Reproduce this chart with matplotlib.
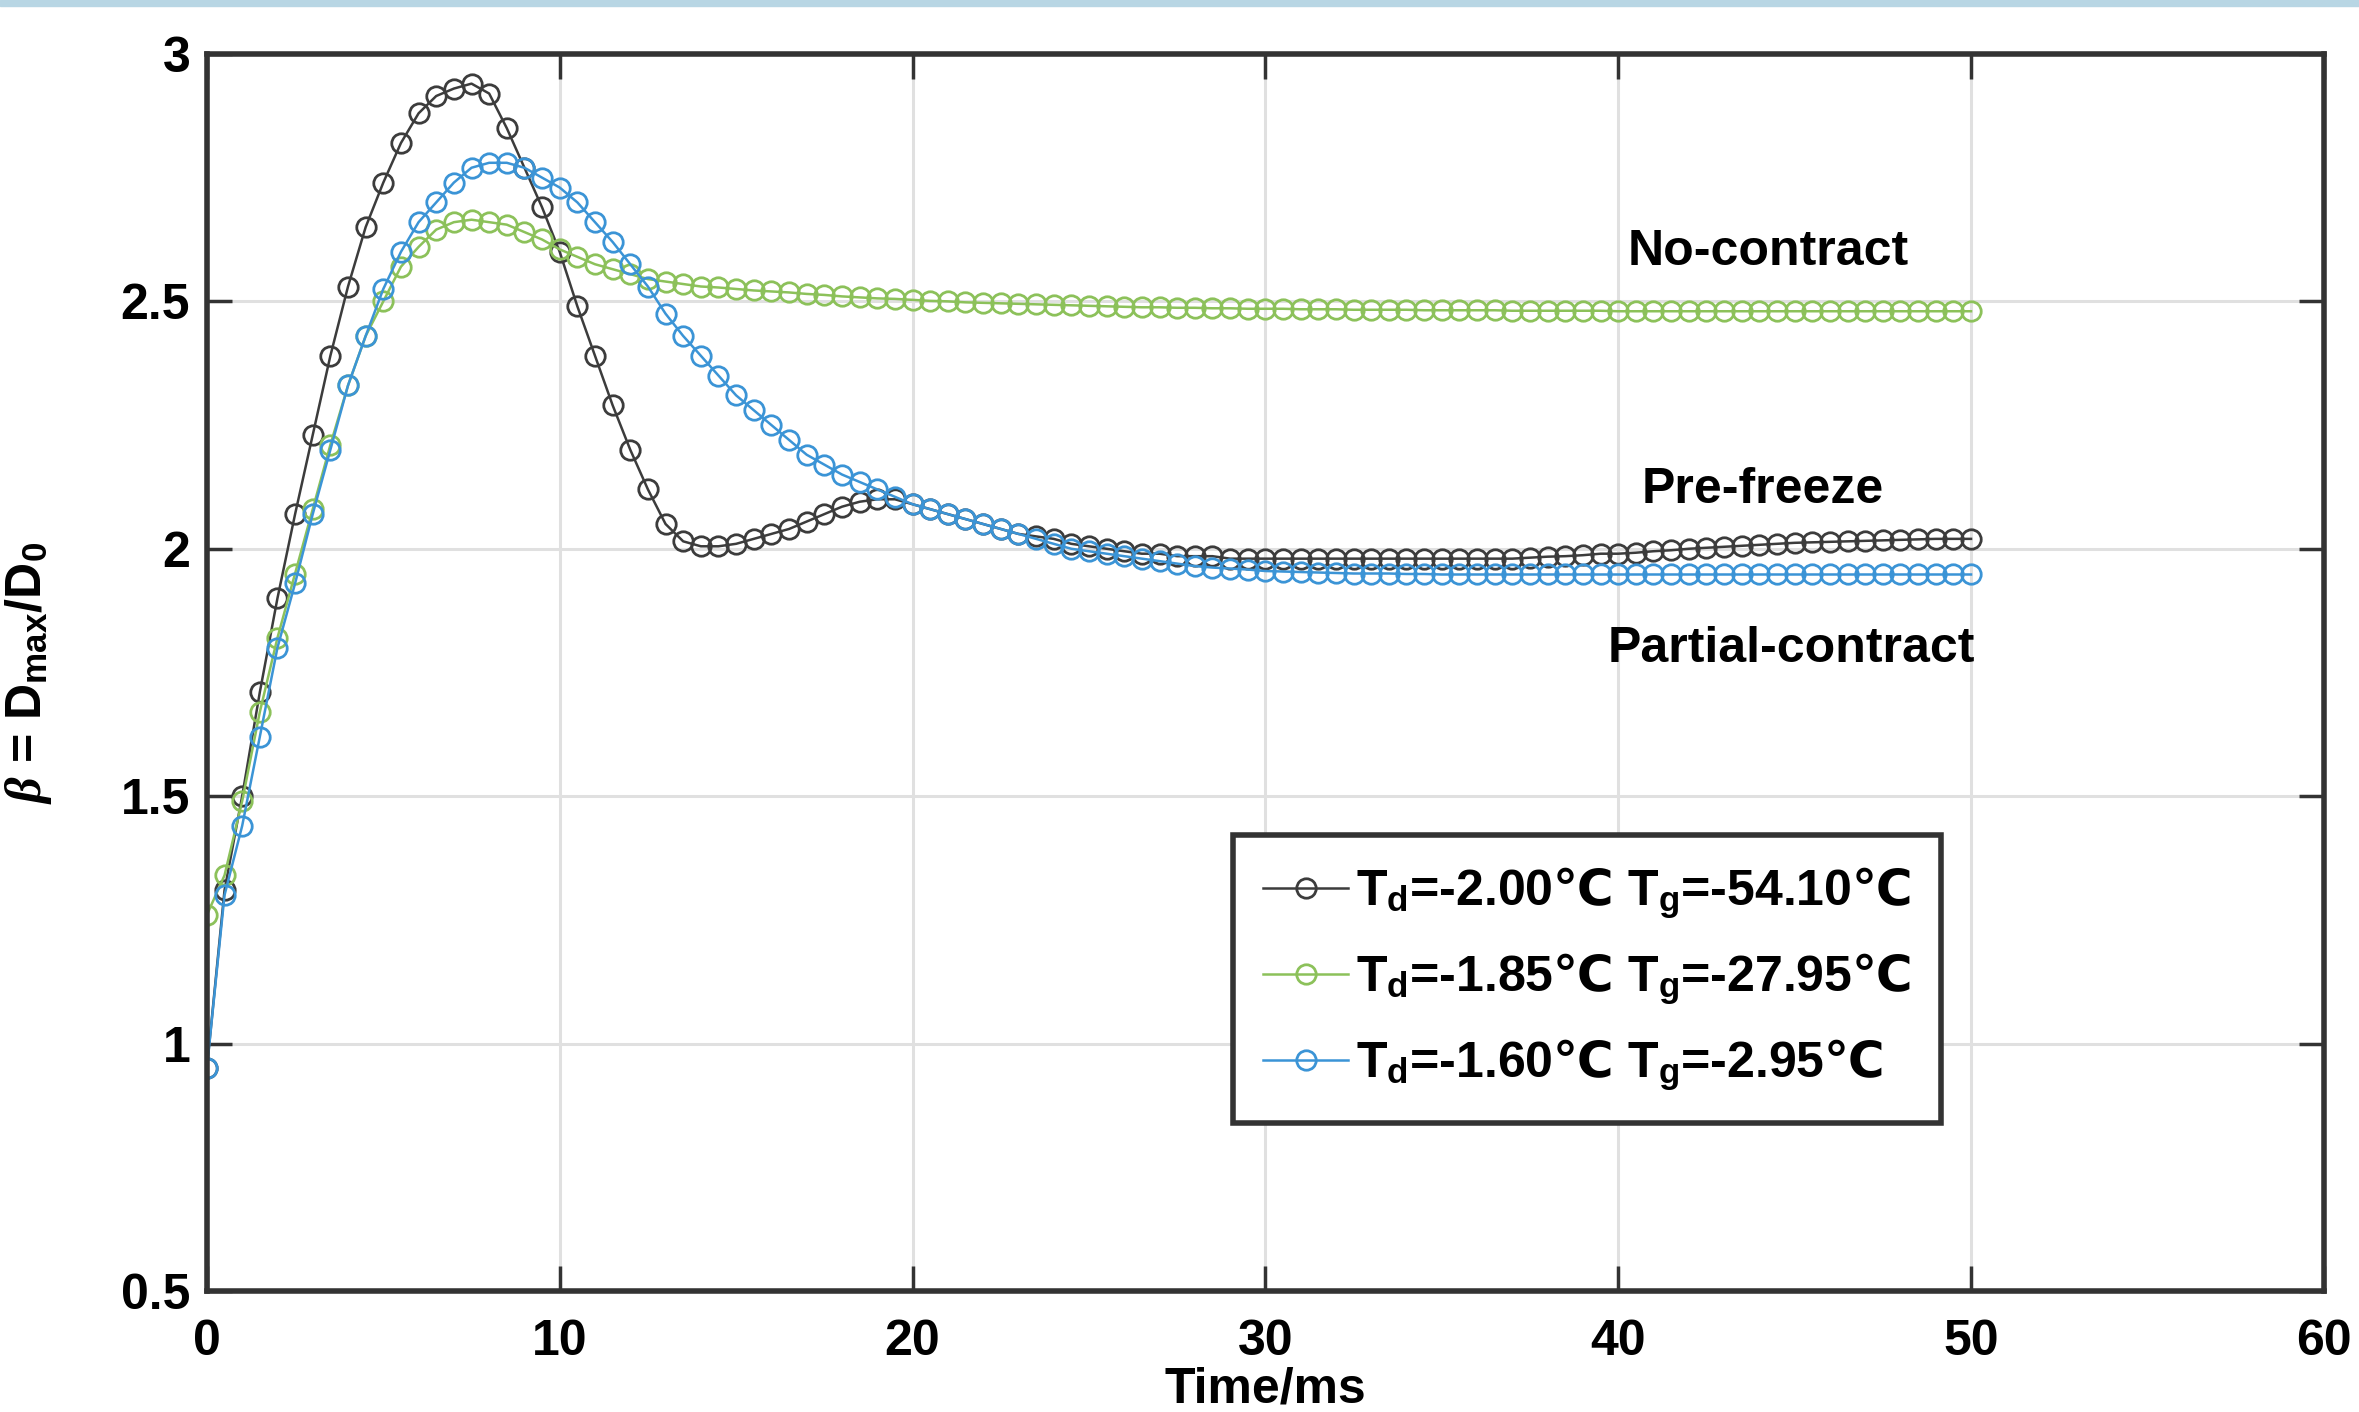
import matplotlib
matplotlib.use("Agg")
import matplotlib.pyplot as plt
from matplotlib.patches import Rectangle
from matplotlib.ticker import FormatStrFormatter

plt.rcParams['font.family'] = ['Liberation Sans', 'DejaVu Sans']
plt.rcParams['font.weight'] = 'bold'
plt.rcParams['mathtext.fontset'] = 'custom'
plt.rcParams['mathtext.rm'] = 'Liberation Sans:bold'
plt.rcParams['mathtext.it'] = 'Liberation Serif:italic'
plt.rcParams['mathtext.sf'] = 'DejaVu Sans'

# time axis, 0.5 ms steps
time_ms = [i * 0.5 for i in range(101)]

beta_nocontract_pre = [
    0.95, 1.31, 1.50, 1.71, 1.90, 2.07, 2.23, 2.39, 2.53, 2.65,
    2.74, 2.82, 2.88, 2.915, 2.93, 2.94, 2.92, 2.85, 2.77, 2.69,
    2.60, 2.49, 2.39, 2.29, 2.20, 2.12, 2.05, 2.015, 2.005, 2.005,
    2.01, 2.02, 2.03, 2.04, 2.055, 2.07, 2.085, 2.095, 2.10, 2.10,
    2.09, 2.08, 2.07, 2.06, 2.05, 2.04, 2.03, 2.025, 2.02, 2.01,
    2.005, 2.0, 1.995, 1.99, 1.99, 1.985, 1.985, 1.985, 1.98, 1.98,
    1.98, 1.98, 1.98, 1.98, 1.98, 1.98, 1.98, 1.98, 1.98, 1.98,
    1.98, 1.98, 1.98, 1.98, 1.98, 1.982, 1.984, 1.985, 1.987, 1.99,
    1.99, 1.992, 1.995, 1.997, 2.0, 2.002, 2.004, 2.006, 2.008, 2.01,
    2.012, 2.013, 2.014, 2.015, 2.016, 2.017, 2.018, 2.019, 2.02, 2.02,
    2.02,
]

beta_green = [
    1.26, 1.34, 1.49, 1.67, 1.82, 1.95, 2.08, 2.21, 2.33, 2.43,
    2.50, 2.57, 2.61, 2.645, 2.66, 2.665, 2.66, 2.655, 2.64, 2.625,
    2.605, 2.59, 2.575, 2.565, 2.555, 2.545, 2.54, 2.535, 2.53, 2.528,
    2.525, 2.522, 2.52, 2.518, 2.515, 2.513, 2.51, 2.508, 2.506, 2.505,
    2.503, 2.501, 2.5, 2.498, 2.497, 2.496, 2.495, 2.494, 2.493, 2.492,
    2.491, 2.49, 2.489, 2.488, 2.488, 2.487, 2.487, 2.486, 2.486, 2.485,
    2.485, 2.485, 2.484, 2.484, 2.484, 2.483, 2.483, 2.483, 2.483, 2.482,
    2.482, 2.482, 2.482, 2.482, 2.481, 2.481, 2.481, 2.481, 2.481, 2.481,
    2.48, 2.48, 2.48, 2.48, 2.48, 2.48, 2.48, 2.48, 2.48, 2.48,
    2.48, 2.48, 2.48, 2.48, 2.48, 2.48, 2.48, 2.48, 2.48, 2.48,
    2.48,
]

beta_blue = [
    0.95, 1.30, 1.44, 1.62, 1.80, 1.93, 2.07, 2.20, 2.33, 2.43,
    2.525, 2.60, 2.66, 2.70, 2.74, 2.77, 2.78, 2.78, 2.77, 2.75,
    2.73, 2.70, 2.66, 2.62, 2.575, 2.53, 2.475, 2.43, 2.39, 2.35,
    2.31, 2.28, 2.25, 2.22, 2.19, 2.17, 2.15, 2.135, 2.12, 2.105,
    2.09, 2.08, 2.07, 2.06, 2.05, 2.04, 2.03, 2.02, 2.01, 2.0,
    1.995, 1.99, 1.985, 1.98, 1.975, 1.97, 1.965, 1.962, 1.96, 1.958,
    1.955, 1.954, 1.953, 1.952, 1.951, 1.95, 1.95, 1.95, 1.949, 1.949,
    1.948, 1.948, 1.948, 1.948, 1.948, 1.948, 1.948, 1.948, 1.948, 1.948,
    1.948, 1.948, 1.948, 1.948, 1.948, 1.948, 1.948, 1.948, 1.948, 1.948,
    1.948, 1.948, 1.948, 1.948, 1.948, 1.948, 1.948, 1.948, 1.948, 1.948,
    1.948,
]

deg = '$\\mathsf{℃}$'
labels = [
    'T$_{\\mathregular{d}}$=-2.00' + deg + ' T$_{\\mathregular{g}}$=-54.10' + deg,
    'T$_{\\mathregular{d}}$=-1.85' + deg + ' T$_{\\mathregular{g}}$=-27.95' + deg,
    'T$_{\\mathregular{d}}$=-1.60' + deg + ' T$_{\\mathregular{g}}$=-2.95' + deg,
]
colors = ['#3c3c3c', '#8cc15a', '#3b94d6']

fig = plt.figure(figsize=(23.59, 14.12), dpi=100)
ax = fig.add_axes([0.0877, 0.0857, 0.8974, 0.8761])
fig.patches.append(Rectangle((0, 0.9958), 1, 0.0042, transform=fig.transFigure,
                             color='#b8d6e4', zorder=0))

for ys, c, lab in zip([beta_nocontract_pre, beta_green, beta_blue], colors, labels):
    ax.plot(time_ms, ys, color=c, lw=1.8, marker='o', markersize=14,
            markerfacecolor='none', markeredgecolor=c, markeredgewidth=2,
            label=lab)

ax.set_xlim(0, 60)
ax.set_ylim(0.5, 3)
ax.set_xticks([0, 10, 20, 30, 40, 50, 60])
ax.set_yticks([0.5, 1, 1.5, 2, 2.5, 3])
ax.yaxis.set_major_formatter(FormatStrFormatter('%g'))
ax.grid(True, color='#e0e0e0', lw=2.2)
ax.set_axisbelow(True)

for s in ax.spines.values():
    s.set_linewidth(4)
    s.set_color('#333333')
ax.tick_params(direction='in', length=18, width=2.5, color='#333333',
               top=True, right=True, labelsize=36)
ax.tick_params(axis='x', pad=20)
ax.tick_params(axis='y', pad=12)

ax.set_xlabel('Time/ms', fontsize=36, fontweight='bold', labelpad=1)
ax.set_ylabel('$\\beta$ = D$_{\\mathregular{max}}$/D$_{\\mathregular{0}}$',
              fontsize=36, fontweight='bold')
ax.yaxis.set_label_coords(-0.072, 0.5)

ax.text(44.25, 2.574, 'No-contract', fontsize=36, fontweight='bold',
        ha='center', va='baseline')
ax.text(44.1, 2.093, 'Pre-freeze', fontsize=36, fontweight='bold',
        ha='center', va='baseline')
ax.text(44.9, 1.771, 'Partial-contract', fontsize=36, fontweight='bold',
        ha='center', va='baseline')

leg = ax.legend(loc='center', bbox_to_anchor=(0.652, 0.252), fontsize=36,
                fancybox=False, framealpha=1, edgecolor='#333333',
                handlelength=1.7, handletextpad=0.15, labelspacing=0.6,
                borderpad=0.6)
leg.get_frame().set_linewidth(4)

fig.savefig('out.png', dpi=100)
